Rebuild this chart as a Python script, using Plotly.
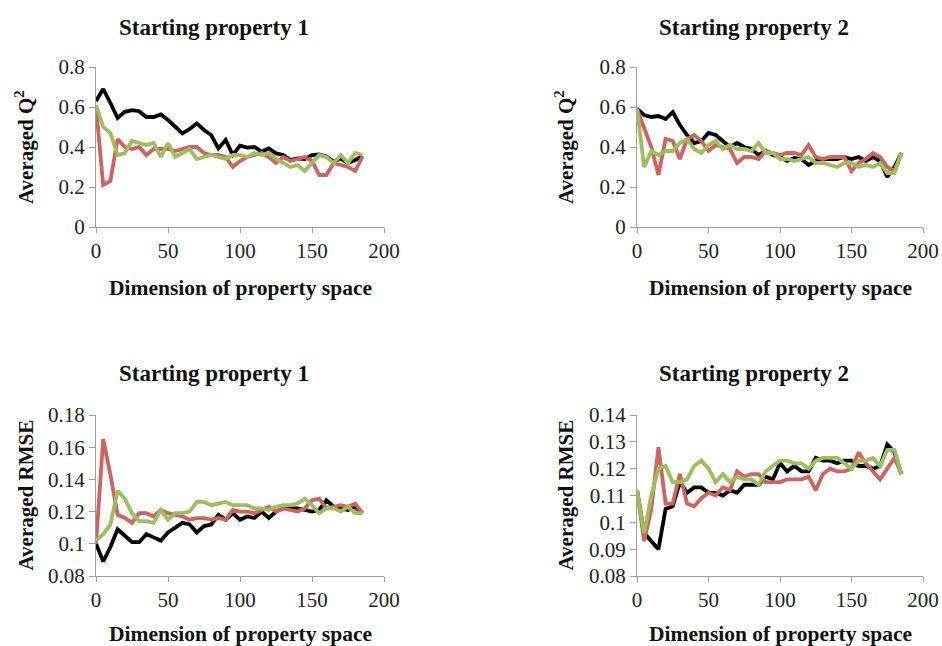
import plotly.graph_objects as go

dims = list(range(0, 186, 5))

# Panel 1: Averaged Q2, starting property 1
q2_p1_black = [0.63, 0.69, 0.62, 0.545, 0.576, 0.584, 0.579, 0.55, 0.55, 0.563, 0.535, 0.50, 0.468, 0.49, 0.518, 0.485, 0.46, 0.393, 0.435, 0.36, 0.407, 0.397, 0.40, 0.377, 0.393, 0.368, 0.36, 0.335, 0.343, 0.34, 0.36, 0.363, 0.352, 0.327, 0.343, 0.32, 0.335, 0.357]
q2_p1_red = [0.60, 0.21, 0.23, 0.44, 0.40, 0.39, 0.40, 0.36, 0.39, 0.39, 0.39, 0.38, 0.39, 0.40, 0.40, 0.37, 0.36, 0.36, 0.35, 0.30, 0.33, 0.35, 0.36, 0.37, 0.35, 0.32, 0.35, 0.33, 0.34, 0.35, 0.33, 0.26, 0.26, 0.32, 0.31, 0.30, 0.28, 0.35]
q2_p1_green = [0.61, 0.50, 0.47, 0.36, 0.37, 0.43, 0.42, 0.41, 0.42, 0.35, 0.42, 0.35, 0.37, 0.39, 0.34, 0.35, 0.36, 0.35, 0.34, 0.36, 0.36, 0.35, 0.37, 0.36, 0.37, 0.34, 0.32, 0.30, 0.31, 0.28, 0.32, 0.36, 0.35, 0.32, 0.36, 0.32, 0.37, 0.36]

# Panel 2: Averaged Q2, starting property 2
q2_p2_black = [0.59, 0.56, 0.55, 0.555, 0.54, 0.575, 0.51, 0.46, 0.42, 0.43, 0.47, 0.46, 0.43, 0.40, 0.42, 0.40, 0.39, 0.36, 0.38, 0.36, 0.35, 0.33, 0.345, 0.34, 0.31, 0.33, 0.34, 0.34, 0.34, 0.35, 0.34, 0.35, 0.33, 0.35, 0.33, 0.25, 0.30, 0.37]
q2_p2_red = [0.59, 0.50, 0.40, 0.26, 0.44, 0.43, 0.34, 0.44, 0.46, 0.43, 0.38, 0.41, 0.40, 0.39, 0.32, 0.35, 0.35, 0.34, 0.38, 0.37, 0.36, 0.37, 0.37, 0.36, 0.41, 0.35, 0.34, 0.35, 0.35, 0.35, 0.28, 0.32, 0.34, 0.37, 0.35, 0.30, 0.28, 0.37]
q2_p2_green = [0.59, 0.30, 0.38, 0.36, 0.38, 0.38, 0.42, 0.44, 0.39, 0.37, 0.41, 0.43, 0.39, 0.41, 0.39, 0.39, 0.38, 0.42, 0.37, 0.37, 0.34, 0.34, 0.33, 0.34, 0.35, 0.32, 0.32, 0.31, 0.30, 0.32, 0.32, 0.30, 0.31, 0.30, 0.32, 0.27, 0.27, 0.37]

# Panel 3: Averaged RMSE, starting property 1
rmse_p1_black = [0.100, 0.089, 0.098, 0.109, 0.105, 0.101, 0.101, 0.106, 0.104, 0.102, 0.107, 0.110, 0.113, 0.112, 0.107, 0.111, 0.112, 0.118, 0.115, 0.119, 0.115, 0.117, 0.116, 0.120, 0.116, 0.120, 0.122, 0.122, 0.122, 0.121, 0.120, 0.121, 0.127, 0.123, 0.122, 0.121, 0.123, 0.119]
rmse_p1_red = [0.100, 0.165, 0.143, 0.118, 0.116, 0.113, 0.119, 0.119, 0.117, 0.121, 0.119, 0.118, 0.117, 0.115, 0.116, 0.116, 0.115, 0.116, 0.115, 0.121, 0.120, 0.120, 0.119, 0.121, 0.123, 0.120, 0.122, 0.121, 0.120, 0.122, 0.127, 0.128, 0.122, 0.123, 0.124, 0.123, 0.125, 0.119]
rmse_p1_green = [0.102, 0.106, 0.112, 0.133, 0.128, 0.119, 0.114, 0.114, 0.113, 0.121, 0.115, 0.119, 0.119, 0.120, 0.126, 0.126, 0.124, 0.125, 0.126, 0.124, 0.124, 0.124, 0.122, 0.122, 0.121, 0.123, 0.124, 0.124, 0.125, 0.128, 0.124, 0.119, 0.122, 0.122, 0.120, 0.123, 0.119, 0.119]

# Panel 4: Averaged RMSE, starting property 2
rmse_p2_black = [0.112, 0.096, 0.093, 0.090, 0.105, 0.106, 0.115, 0.111, 0.113, 0.113, 0.111, 0.111, 0.110, 0.112, 0.111, 0.114, 0.114, 0.114, 0.117, 0.116, 0.122, 0.119, 0.121, 0.119, 0.119, 0.124, 0.123, 0.123, 0.122, 0.123, 0.123, 0.121, 0.121, 0.120, 0.121, 0.129, 0.126, 0.118]
rmse_p2_red = [0.112, 0.093, 0.105, 0.128, 0.107, 0.107, 0.118, 0.107, 0.106, 0.109, 0.111, 0.110, 0.113, 0.112, 0.119, 0.117, 0.118, 0.118, 0.115, 0.115, 0.115, 0.116, 0.116, 0.116, 0.117, 0.112, 0.118, 0.120, 0.119, 0.119, 0.120, 0.126, 0.122, 0.119, 0.116, 0.120, 0.124, 0.118]
rmse_p2_green = [0.112, 0.096, 0.110, 0.120, 0.121, 0.115, 0.115, 0.116, 0.121, 0.123, 0.120, 0.115, 0.118, 0.115, 0.117, 0.116, 0.116, 0.114, 0.119, 0.121, 0.123, 0.123, 0.122, 0.122, 0.120, 0.123, 0.124, 0.124, 0.124, 0.122, 0.120, 0.123, 0.123, 0.124, 0.121, 0.127, 0.127, 0.118]

panel_titles = ["Starting property 1", "Starting property 2", "Starting property 1", "Starting property 2"]
x_title = "Dimension of property space"
y_titles = ["Averaged Q<sup>2</sup>", "Averaged Q<sup>2</sup>", "Averaged RMSE", "Averaged RMSE"]
x_ticks = [0, 50, 100, 150, 200]

panels = [
    (q2_p1_black, q2_p1_red, q2_p1_green),
    (q2_p2_black, q2_p2_red, q2_p2_green),
    (rmse_p1_black, rmse_p1_red, rmse_p1_green),
    (rmse_p2_black, rmse_p2_red, rmse_p2_green),
]
y_ranges = [(0, 0.8, 0.2), (0, 0.8, 0.2), (0.08, 0.18, 0.02), (0.08, 0.14, 0.01)]

W, H = 942, 646
colors = ["#000000", "#D2625C", "#9DBF5B"]
FONT = "Liberation Serif"

x_px = [(96, 384), (637, 923)]
y_px = [(67, 227), (415, 576)]
x_domains = [(a / W, b / W) for a, b in x_px]
y_domains = [(1 - b / H, 1 - a / H) for a, b in y_px]

fig = go.Figure()
annotations = []
axis_gray = "#A0A0A0"

title_cx = [214, 754]
title_cy = [27, 373]
ytitle_x = [25, 565]
xtitle_y = [288, 634]

for i, series in enumerate(panels):
    row, col = divmod(i, 2)
    n = i + 1
    xa = "x" if n == 1 else f"x{n}"
    ya = "y" if n == 1 else f"y{n}"
    for s, c in zip(series, colors):
        fig.add_trace(go.Scatter(x=dims, y=s, mode="lines", xaxis=xa, yaxis=ya,
                                 line=dict(color=c, width=3.8), showlegend=False,
                                 hoverinfo="skip"))
    ymin, ymax, dt = y_ranges[i]
    nt = int(round((ymax - ymin) / dt))
    yt = [round(ymin + k * dt, 4) for k in range(nt + 1)]
    ytext = [("%g" % v) for v in yt]
    xkey = "xaxis" if n == 1 else f"xaxis{n}"
    ykey = "yaxis" if n == 1 else f"yaxis{n}"
    fig.layout[xkey] = dict(domain=x_domains[col], range=[0, 200], anchor=ya,
                            tickvals=x_ticks, ticks="outside", ticklen=5,
                            tickcolor=axis_gray, showline=True, linecolor=axis_gray,
                            linewidth=1, showgrid=False, zeroline=False, automargin=False,
                            tickfont=dict(family=FONT, size=21, color="#222"))
    fig.layout[ykey] = dict(domain=y_domains[row], range=[ymin, ymax], anchor=xa,
                            tickvals=yt, ticktext=ytext, ticks="outside", ticklen=6,
                            tickcolor=axis_gray, showline=True, linecolor=axis_gray,
                            linewidth=1, showgrid=False, zeroline=False, automargin=False,
                            tickfont=dict(family=FONT, size=21, color="#222"))
    cx = (x_px[col][0] + x_px[col][1]) / 2
    cy = (y_px[row][0] + y_px[row][1]) / 2
    annotations.append(dict(text="<b>" + panel_titles[i] + "</b>",
                            x=title_cx[col] / W, y=1 - title_cy[row] / H,
                            xref="paper", yref="paper", showarrow=False,
                            xanchor="center", yanchor="middle",
                            font=dict(family=FONT, size=23, color="#111")))
    annotations.append(dict(text="<b>" + x_title + "</b>",
                            x=cx / W, y=1 - xtitle_y[row] / H,
                            xref="paper", yref="paper", showarrow=False,
                            xanchor="center", yanchor="middle",
                            font=dict(family=FONT, size=21.5, color="#111")))
    annotations.append(dict(text="<b>" + y_titles[i] + "</b>",
                            x=ytitle_x[col] / W, y=1 - cy / H, textangle=-90,
                            xref="paper", yref="paper", showarrow=False,
                            xanchor="center", yanchor="middle",
                            font=dict(family=FONT, size=21, color="#111")))

fig.update_layout(width=W, height=H, margin=dict(l=0, r=0, t=0, b=0),
                  paper_bgcolor="white", plot_bgcolor="white",
                  annotations=annotations, showlegend=False)

fig.write_html("out.html", config={"displayModeBar": False},
               post_script="document.body.style.margin='0px';document.body.style.padding='0px';")
